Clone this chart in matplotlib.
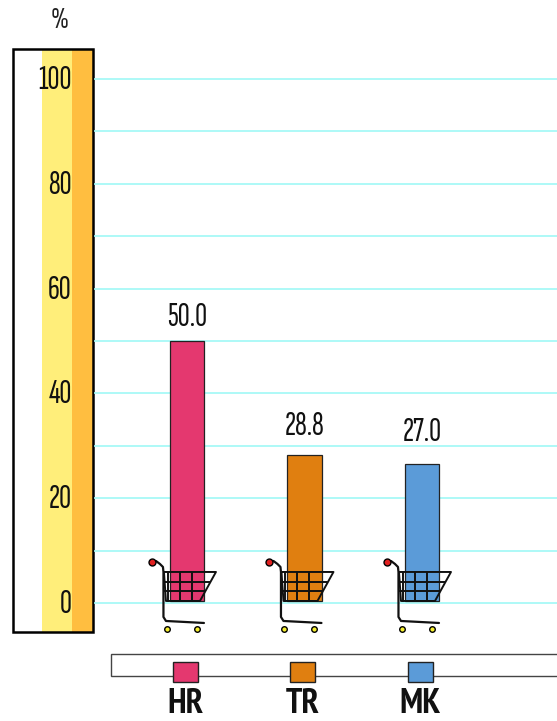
import matplotlib
matplotlib.use("Agg")
import matplotlib.pyplot as plt
from matplotlib.patches import Rectangle
from matplotlib.transforms import Affine2D, ScaledTranslation

categories = ["HR", "TR", "MK"]
bar_heights = [50.0, 28.2, 26.6]
value_labels = ["50.0", "28.8", "27.0"]
colors = ["#e4386f", "#e07f10", "#5b9bd8"]
tick_values = [0, 20, 40, 60, 80, 100]
grid_values = list(range(0, 101, 10))

W, H = 557, 721
NARROW = ["Sofia Sans Extra Condensed", "Fira Sans Extra Condensed", "Liberation Sans", "DejaVu Sans"]
BOLD = ["PT Sans Narrow", "Archivo Narrow", "Liberation Sans", "DejaVu Sans"]
plt.rcParams["font.family"] = NARROW

fig = plt.figure(figsize=(W / 100, H / 100), dpi=100, facecolor="white")

# pixel overlay for the side panel and the legend strip
back = fig.add_axes([0, 0, 1, 1])
back.set_xlim(0, W)
back.set_ylim(H, 0)
back.axis("off")

back.add_patch(Rectangle((13, 49), 29, 583, fc="white", ec="none"))
back.add_patch(Rectangle((42, 49), 30, 583, fc="#ffee7a", ec="none"))
back.add_patch(Rectangle((72, 49), 21, 583, fc="#ffbe40", ec="none"))
back.add_patch(Rectangle((13, 49), 80, 583, fc="none", ec="black", lw=1.8))
back.text(60, 20, "%", ha="center", va="center", fontsize=22, color="#222222")

back.add_patch(Rectangle((110.5, 654), 447, 22, fc="white", ec="#444444", lw=1))

# main plot, limits chosen so 0 sits at y=603 and 100 at y=79
ax = fig.add_axes([94 / W, (H - 633) / H, (W - 94) / W, 585 / H])
ax.patch.set_alpha(0)
ax.set_xlim(-0.791, 3.149)
ax.set_ylim(-5.73, 105.9)
for s in ax.spines.values():
    s.set_visible(False)
ax.set_xticks([])
ax.set_yticks(tick_values)
ax.tick_params(axis="y", length=0, pad=16, labelsize=24, labelcolor="#111111")
lift = ScaledTranslation(0, 2 / 100, fig.dpi_scale_trans)
for lab in ax.get_yticklabels():
    lab.set_transform(lab.get_transform() + lift)
for g in grid_values:
    ax.axhline(g, color="#9ff8f6", lw=1.2, zorder=1)

positions = range(len(categories))
# bars stop just above the zero line in the reference
ax.bar(positions, [h - 0.4 for h in bar_heights], bottom=0.4, width=0.29, color=colors,
       edgecolor="#222222", lw=0.9, zorder=2)
label_gaps = [24, 29, 32]
for i, h, txt, gap in zip(positions, bar_heights, value_labels, label_gaps):
    ax.annotate(txt, (i, h), xytext=(0, gap * 0.72), textcoords="offset points",
                ha="center", va="center", fontsize=24, color="#111111")


def draw_cart(i):
    # cart shape in pixels around the foot of the bar
    cx, cy = ax.transData.transform((i, 0))
    tf = Affine2D().translate(cx, cy)
    kw = dict(color="#111111", transform=tf, clip_on=False, zorder=4, solid_capstyle="round")
    ax.plot([-35, -31, -27, -24, -23.5, -23.5, -21, 17], [41, 42, 39, 36, 31, -14, -18, -20], lw=1.6, **kw)
    # basket
    ax.plot([-23, 29, 13, -21, -23], [31, 31, 2, 2, 31], lw=1.4, **kw)
    ax.plot([-23, 23], [21, 21], lw=1.4, **kw)
    ax.plot([-23, 18], [12, 12], lw=1.4, **kw)
    for dx in (-19, -7, 5):
        ax.plot([dx, dx], [31, 2], lw=1.4, **kw)
    ax.plot([-35], [41], marker="o", ms=5, mfc="#e02020", mec="black", mew=1,
            ls="none", transform=tf, clip_on=False, zorder=5)
    for dx in (-20, 10):
        ax.plot([dx], [-26], marker="o", ms=4, mfc="#f4ee30", mec="black", mew=1,
                ls="none", transform=tf, clip_on=False, zorder=5)


for i in positions:
    draw_cart(i)

# legend swatches under each bar
for i, name, col in zip(positions, categories, colors):
    x = ax.transData.transform((i, 0))[0] - 1.5
    back.add_patch(Rectangle((x - 12.5, 662), 25, 20, fc=col, ec="#222222", lw=1, zorder=3))
    back.text(x, 704, name, ha="center", va="center", fontsize=25, fontweight="bold",
              color="#111111", family=BOLD)

fig.savefig("out.png", dpi=100)
